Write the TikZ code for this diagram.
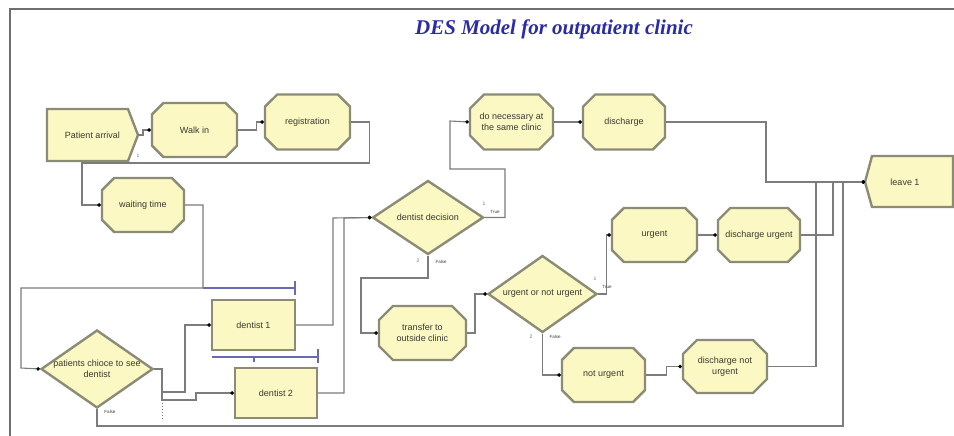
\documentclass[tikz,border=0pt]{standalone}
\usepackage{fontspec}
\newfontfamily\labfont{Liberation Sans}
\newfontfamily\titlefont{Liberation Serif}
\usetikzlibrary{shapes.geometric,shapes.misc,arrows.meta}
\definecolor{boxfill}{HTML}{FBF8C3}
\definecolor{boxline}{HTML}{8C8C76}
\definecolor{connc}{HTML}{7C7C7C}
\definecolor{qline}{HTML}{6A6AB4}
\definecolor{titleblue}{HTML}{2B2BA6}
\definecolor{txtc}{HTML}{3A3A30}
\definecolor{framec}{HTML}{6E6E6E}
\begin{document}
\begin{tikzpicture}[x=1pt,y=-1pt,
  lab/.style={font=\labfont\fontsize{9}{10.5}\selectfont, text=txtc, align=center},
  modbox/.style={chamfered rectangle, chamfered rectangle sep=7pt, fill=boxfill, draw=boxline,
    line width=2.4pt, inner sep=1pt, lab},
  procbox/.style={rectangle, fill=boxfill, draw=boxline, line width=2.4pt, inner sep=1pt, lab},
  dia/.style={diamond, fill=boxfill, draw=boxline, line width=2.4pt, inner sep=0pt},
  shapebody/.style={fill=boxfill, draw=boxline, line width=2.4pt, line join=miter},
  txtonly/.style={lab, inner sep=0pt, outer sep=0pt},
  conn/.style={draw=connc, line width=1.1pt, -{Circle[length=3.4pt, color=black]}},
  qln/.style={draw=qline, line width=1.1pt},
  tiny/.style={font=\labfont\fontsize{4.5}{5}\selectfont, text=txtc, inner sep=0pt},
  tinyn/.style={font=\labfont\fontsize{5}{5}\selectfont, text=qline, inner sep=0pt}]
\useasboundingbox (0,0) rectangle (954,436);
\fill[white] (0,0) rectangle (954,436);
% frame
\draw[framec, line width=1.3pt] (10,436) -- (10,9) -- (954,9);
% title
\node[font=\titlefont\bfseries\itshape\fontsize{21}{24}\selectfont, text=titleblue] (title) at (554,29) {DES Model for outpatient clinic};

% special shapes
\draw[shapebody] (47,109) -- (128,109) -- (138,135) -- (128,161) -- (47,161) -- cycle;
\node[txtonly, minimum width=91pt, minimum height=52pt] (pa) at (92.5,135) {Patient arrival};
\draw[shapebody] (865,182) -- (872,156) -- (953,156) -- (953,207) -- (872,207) -- cycle;
\node[txtonly, minimum width=80pt, minimum height=51pt] (lv) at (905,182) {leave 1};

% modules
\node[modbox, minimum width=85pt, minimum height=54pt] (wi) at (194.5,130) {Walk in};
\node[modbox, minimum width=85pt, minimum height=55pt] (reg) at (307.5,122) {registration};
\node[modbox, minimum width=82pt, minimum height=54pt] (wt) at (143,205) {waiting time};
\node[modbox, minimum width=83pt, minimum height=55pt] (dn) at (511.5,122) {do necessary at\\the same clinic};
\node[modbox, minimum width=82pt, minimum height=55pt] (dc) at (624,122) {discharge};
\node[modbox, minimum width=87pt, minimum height=54pt] (tr) at (422.5,333) {transfer to\\outside clinic};
\node[modbox, minimum width=85pt, minimum height=54pt] (ur) at (654.5,235) {urgent};
\node[modbox, minimum width=82pt, minimum height=54pt] (du) at (759,235) {discharge urgent};
\node[modbox, minimum width=83pt, minimum height=54pt] (nu) at (603.5,375) {not urgent};
\node[modbox, minimum width=84pt, minimum height=53pt] (dnu) at (725,366.5) {discharge not\\urgent};
\node[procbox, minimum width=83pt, minimum height=50pt] (d1) at (253.5,325) {dentist 1};
\node[procbox, minimum width=82pt, minimum height=50pt] (d2) at (276,393) {dentist 2};

% decisions
\node[dia, minimum width=112pt, minimum height=78pt] (pc) at (97,369) {};
\node[txtonly] (pct) at (pc) {patients chioce to see\\dentist};
\node[dia, minimum width=111pt, minimum height=74pt] (dd) at (428,217.5) {};
\node[txtonly] (ddt) at (dd) {dentist decision};
\node[dia, minimum width=109pt, minimum height=77pt] (ud) at (542.5,294) {};
\node[txtonly] (udt) at (ud) {urgent or not urgent};

% queue lines
\draw[qln] (203,288) -- (295,288);
\draw[qln] (295,281) -- (295,295);
\draw[qln] (212,357) -- (318,357);
\draw[qln] (318,349) -- (318,363);
\draw[qln] (254,357) -- (254,362);

% connectors
\draw[conn] (pa.east) -- ++(5,0) |- (wi.west);
\draw[conn] (wi.east) -- ++(18,0) |- (reg.west);
\draw[conn] (reg.east) -- ++(18,0) |- (82,163) |- (wt.west);
\draw[conn] (wt.east) -| (203,288) -| (21,368) -- (pc.west);
\draw[conn] (pc.east) -| (162,392) -- (185,392) |- (d1.west);
\draw[conn] (pc.east) -| (162,400) -- (196,400) |- (d2.west);
\draw[connc, line width=1pt, dotted] (162,403) -- (162,421);
\draw[conn] (pc.south) |- (843,426) |- (lv.west);
\draw[conn] (d1.east) -| (333,218) -- (dd.west);
\draw[conn] (d2.east) -| (344,218) -- (dd.west);
\draw[conn] (dd.east) -| (505,169) -| (450,121) -- (dn.west);
\draw[conn] (dd.south) |- (361,278) |- (tr.west);
\draw[conn] (tr.east) -| (475,294) -- (ud.west);
\draw[conn] (ud.east) -- ++(8,0) |- (ur.west);
\draw[conn] (ud.south) |- (nu.west);
\draw[conn] (dn.east) -- (dc.west);
\draw[conn] (dc.east) -| (766,182) -- (lv.west);
\draw[conn] (ur.east) -- (du.west);
\draw[conn] (du.east) -| (833,182) -- (lv.west);
\draw[conn] (nu.east) -- ++(20,0) |- (dnu.west);
\draw[conn] (dnu.east) -| (816,182) -- (lv.west);

% small labels
\node[tinyn] (n1) at (138,156) {1};
\node[tiny] (f1) at (110,412) {False};
\node[tinyn] (n2) at (484,204) {1};
\node[tiny] (t2) at (495,212) {True};
\node[tinyn] (n3) at (418,261) {2};
\node[tiny] (f3) at (441,262) {False};
\node[tinyn] (n4) at (595,279) {1};
\node[tiny] (t4) at (607,287) {True};
\node[tinyn] (n5) at (531,337) {2};
\node[tiny] (f5) at (555,337) {False};
\end{tikzpicture}
\end{document}
